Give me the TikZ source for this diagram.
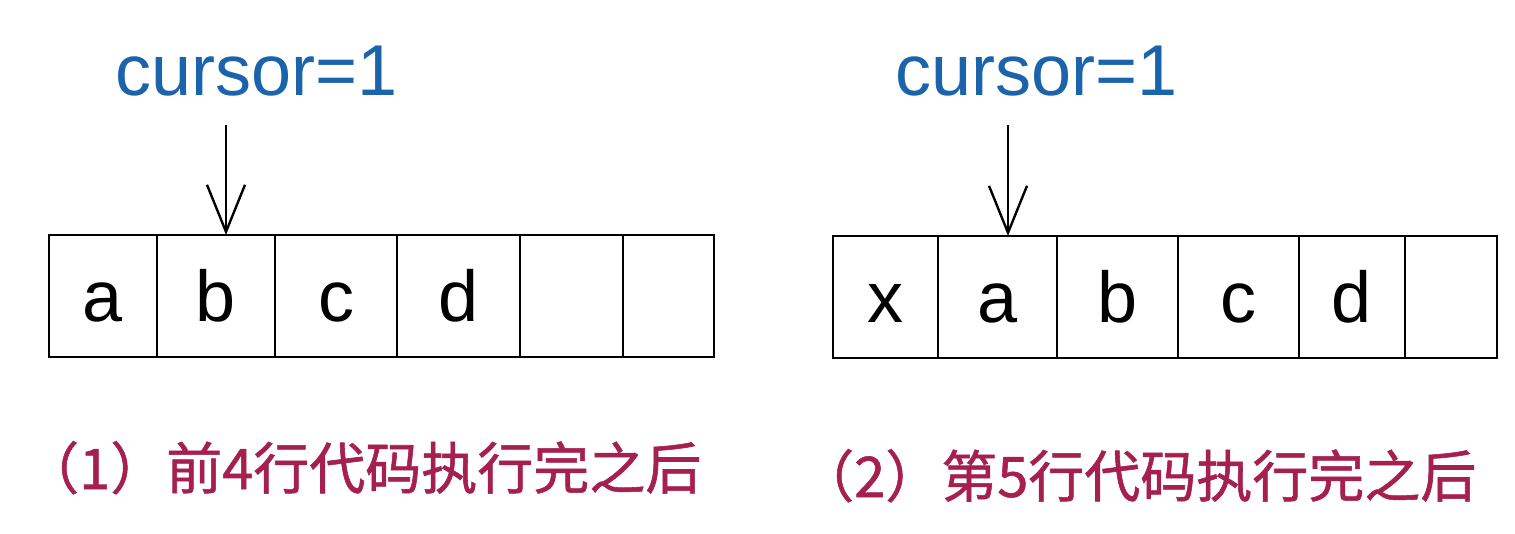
\documentclass[tikz,border=0pt]{standalone}
\usepackage{fontspec}
\setmainfont{Liberation Sans}
\newfontfamily\cjk{Noto Sans CJK SC}[FakeBold=1]
\usetikzlibrary{arrows.meta}
\definecolor{curblue}{HTML}{1B63AB}
\definecolor{capred}{HTML}{A51F4F}
\begin{document}
\begin{tikzpicture}[x=1pt,y=-1pt,
  cell/.style={draw=black, line width=2.8pt, inner sep=0pt, outer sep=0pt,
    minimum height=122pt, text height=51pt, text depth=0pt,
    font=\fontsize{72}{80}\selectfont, anchor=north west},
  cursortext/.style={text=curblue, font=\fontsize{72}{80}\selectfont, anchor=base west, inner sep=0pt},
  captext/.style={text=capred, font=\cjk\fontsize{56}{64}\selectfont, anchor=base west, inner sep=0pt},
  ptr/.style={line width=2.4pt, -{Straight Barb[length=47pt,width=38pt,line width=2.4pt]}}]
\useasboundingbox[fill=white] (0,0) rectangle (1515,533);
% left array
\node[cell, minimum width=108pt] (l1) at (49,235) {a};
\node[cell, minimum width=118pt] (l2) at (157,235) {b};
\node[cell, minimum width=122pt] (l3) at (275,235) {c};
\node[cell, minimum width=123pt] (l4) at (397,235) {d};
\node[cell, minimum width=103pt] (l5) at (520,235) {};
\node[cell, minimum width=91pt] (l6) at (623,235) {};
% right array
\node[cell, minimum width=105pt] (r1) at (833,236) {x};
\node[cell, minimum width=119pt] (r2) at (938,236) {a};
\node[cell, minimum width=121pt] (r3) at (1057,236) {b};
\node[cell, minimum width=121pt] (r4) at (1178,236) {c};
\node[cell, minimum width=106pt] (r5) at (1299,236) {d};
\node[cell, minimum width=92pt] (r6) at (1405,236) {};
% cursor labels
\node[cursortext] (cl) at (115,95) {cursor=1};
\node[cursortext] (cr) at (895,95) {cursor=1};
% pointers
\coordinate (p1) at (226,125);
\draw[ptr] (p1) -- (p1 |- l2.north);
\coordinate (p2) at (1008,125);
\draw[ptr] (p2) -- (p2 |- r2.north);
% captions
\node[captext] (capl) at (23,489) {（1）前4行代码执行完之后};
\node[captext] (capr) at (798,497) {（2）第5行代码执行完之后};
\end{tikzpicture}
\end{document}
